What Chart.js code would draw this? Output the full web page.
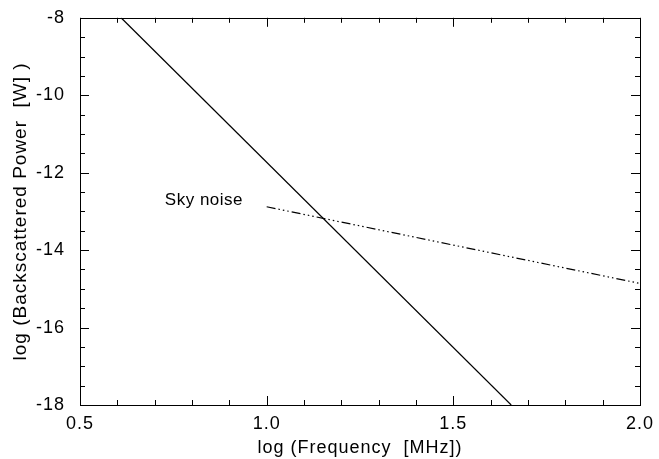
<!DOCTYPE html>
<html>
<head>
<meta charset="utf-8">
<script src="https://cdn.jsdelivr.net/npm/chart.js@4"></script>
<style>
    html, body { margin: 0; padding: 0; background: #fff; }
    #wrap { width: 659px; height: 459px; }
</style>
</head>
<body>
<div id="wrap"><canvas id="chart-id" width="659" height="459"></canvas></div>
<script>
// log frequency [MHz] vs log backscattered power [W]
const backscatterX = [0.61, 1.655];
const backscatterY = [-8, -18];
const skyNoiseX = [1.0, 2.0];
const skyNoiseY = [-12.88, -14.86];

const xMajorTicks = [0.5, 1.0, 1.5, 2.0];
const xMinorTicks = [0.6, 0.7, 0.8, 0.9, 1.1, 1.2, 1.3, 1.4, 1.6, 1.7, 1.8, 1.9];
const yMajorTicks = [-18, -16, -14, -12, -10, -8];
const yMinorTicks = [-17.5, -17, -16.5, -15.5, -15, -14.5, -13.5, -13, -12.5, -11.5, -11, -10.5, -9.5, -9, -8.5];

const skyNoiseLabel = { text: 'Sky noise', x: 0.832, y: -12.72 };

const fontFamily = '"Liberation Sans", Arial, Helvetica, sans-serif';

const toPoints = (xs, ys) => xs.map((x, i) => ({ x: x, y: ys[i] }));

// draws the box round the plot and inward ticks on all four sides, plus the label
const frameTicks = {
    id: 'frameTicks',
    beforeDraw(chart) {
        // the original lettering is a little wider than Liberation Sans
        chart.ctx.letterSpacing = '1px';
    },
    afterDraw(chart) {
        const ctx = chart.ctx;
        const area = chart.chartArea;
        const xs = chart.scales.x;
        const ys = chart.scales.y;
        ctx.save();
        ctx.strokeStyle = '#000';
        ctx.lineWidth = 1;
        ctx.strokeRect(Math.round(area.left) + 0.5, Math.round(area.top) + 0.5,
            Math.round(area.right - area.left), Math.round(area.bottom - area.top));

        const tick = (x1, y1, x2, y2) => {
            ctx.beginPath();
            ctx.moveTo(x1, y1);
            ctx.lineTo(x2, y2);
            ctx.stroke();
        };
        const xTicks = (values, len) => values.forEach((v) => {
            const px = Math.round(xs.getPixelForValue(v)) + 0.5;
            tick(px, area.bottom, px, area.bottom - len);
            tick(px, area.top, px, area.top + len);
        });
        const yTicks = (values, len) => values.forEach((v) => {
            const py = Math.round(ys.getPixelForValue(v)) + 0.5;
            tick(area.left, py, area.left + len, py);
            tick(area.right, py, area.right - len, py);
        });
        xTicks(xMajorTicks, 9);
        xTicks(xMinorTicks, 5);
        yTicks(yMajorTicks, 9);
        yTicks(yMinorTicks, 5);

        ctx.fillStyle = '#000';
        ctx.font = `17px ${fontFamily}`;
        ctx.letterSpacing = '0.5px';
        ctx.textAlign = 'center';
        ctx.textBaseline = 'middle';
        ctx.fillText(skyNoiseLabel.text, xs.getPixelForValue(skyNoiseLabel.x), ys.getPixelForValue(skyNoiseLabel.y));
        ctx.restore();
    }
};

new Chart(
    document.getElementById('chart-id'),
    {
        type: 'line',
        plugins: [frameTicks],
        data: {
            datasets: [
                {
                    label: 'Backscattered power',
                    data: toPoints(backscatterX, backscatterY),
                    borderColor: '#000',
                    borderWidth: 1.2,
                    pointRadius: 0,
                    fill: false,
                },
                {
                    label: 'Sky noise',
                    data: toPoints(skyNoiseX, skyNoiseY),
                    borderColor: '#000',
                    borderWidth: 1.2,
                    borderDash: [9, 3, 1.5, 3, 1.5, 3, 1.5, 3],
                    pointRadius: 0,
                    fill: false,
                },
            ]
        },
        options: {
            responsive: false,
            animation: false,
            layout: {
                padding: { left: 0, right: 19, top: 15, bottom: 0 }
            },
            plugins: {
                legend: { display: false },
                tooltip: { enabled: false },
            },
            scales: {
                x: {
                    type: 'linear',
                    min: 0.5,
                    max: 2.0,
                    grid: { display: false },
                    border: { display: false },
                    afterFit: (scale) => { scale.height = 54; },
                    ticks: {
                        stepSize: 0.5,
                        color: '#000',
                        padding: 0,
                        maxRotation: 0,
                        font: { family: fontFamily, size: 18 },
                        callback: (value) => value.toFixed(1),
                    },
                    title: {
                        display: true,
                        text: 'log (Frequency  [MHz])',
                        color: '#000',
                        padding: { top: 0, bottom: 0 },
                        font: { family: fontFamily, size: 18 },
                    }
                },
                y: {
                    type: 'linear',
                    min: -18,
                    max: -8,
                    grid: { display: false },
                    border: { display: false },
                    afterFit: (scale) => { scale.width = 80; },
                    ticks: {
                        stepSize: 2,
                        color: '#000',
                        padding: 7,
                        font: { family: fontFamily, size: 18 },
                    },
                    title: {
                        display: true,
                        text: 'log (Backscattered Power  [W] )',
                        color: '#000',
                        padding: { top: 9, bottom: 0 },
                        font: { family: fontFamily, size: 19 },
                    }
                }
            }
        }
    }
);
</script>
</body>
</html>
